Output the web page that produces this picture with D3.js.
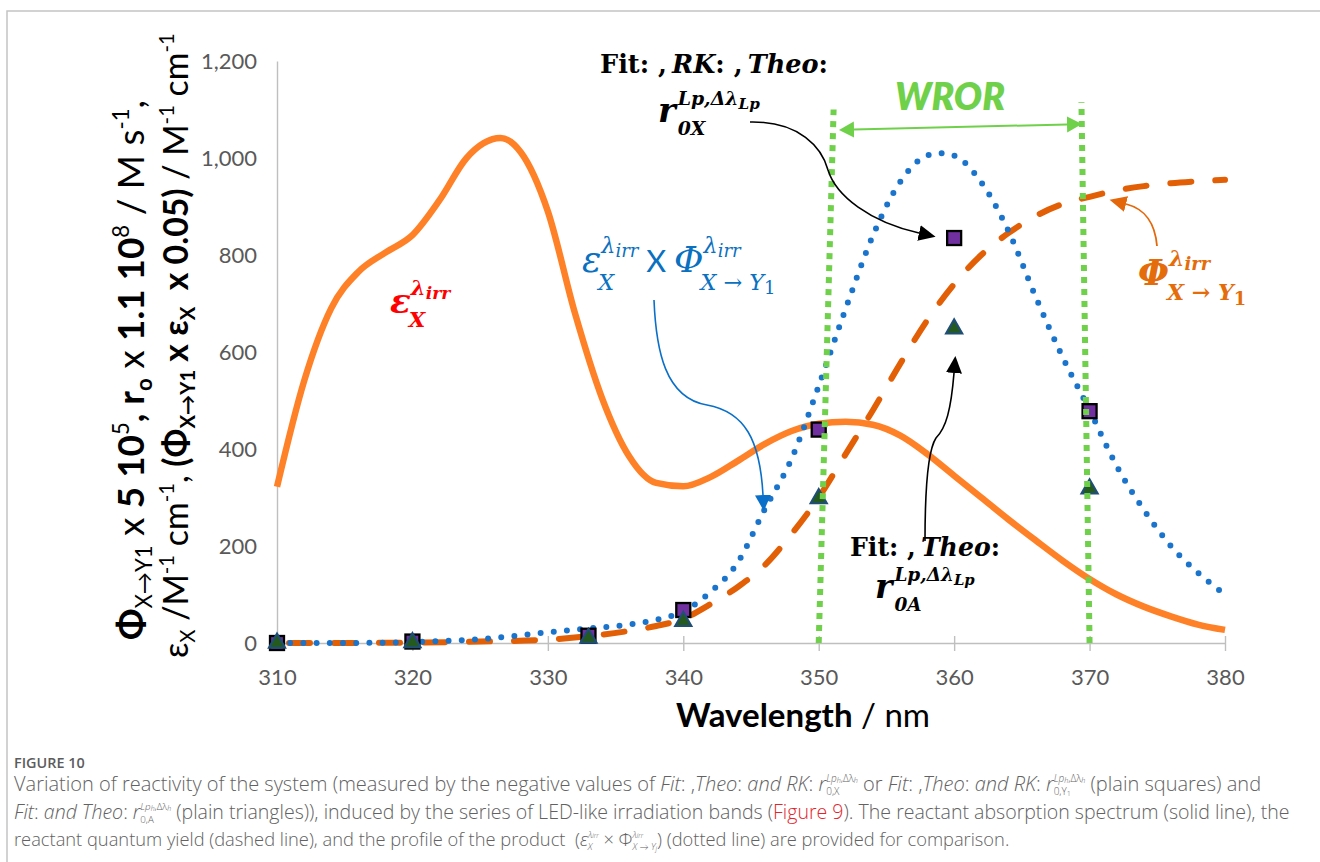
<!DOCTYPE html>
<html>
<head>
<meta charset="utf-8">
<script src="https://cdn.jsdelivr.net/npm/d3@7"></script>
<style>
  html, body { margin: 0; padding: 0; background: #fff; }
  svg { display: block; }
  text { white-space: pre; }
</style>
</head>
<body>
<svg id="fig" width="1320" height="862"></svg>
<script>
// ---- data -------------------------------------------------------------
const xTicks = [310, 320, 330, 340, 350, 360, 370, 380];
const yTicks = [0, 200, 400, 600, 800, 1000, 1200];

// irradiation wavelengths of the LED-like bands (nm)
const markerWavelengths = [310, 320, 333, 340, 350, 360, 370];
// reactivity r0X / r0Y1 (plain squares) and r0A (plain triangles), scaled
const squareValues   = [0, 3, 15, 68, 440, 835, 478];
const triangleValues = [0, 1, 10, 45, 298, 648, 318];

// reactant absorption spectrum epsilon_X (M-1 cm-1)
const epsWavelengths = [310, 312, 314, 316, 318, 320, 322, 324, 326.5, 328, 330, 332, 334, 336, 338, 340,
                        342, 344, 346, 348, 350, 352, 354, 356, 358, 360, 362, 364, 366, 368, 370, 372,
                        374, 376, 378, 380];
const epsValues      = [322, 540, 690, 765, 805, 841, 913, 1000, 1041, 1012, 890, 680, 505, 385, 330, 323,
                        342, 375, 410, 437, 452, 456, 450, 428, 390, 345, 300, 255, 212, 170, 132, 100,
                        75, 55, 38, 27];

// reactant quantum yield Phi_X->Y1 (x 5 10^5)
const phiWavelengths = [310, 315, 320, 325, 330, 333, 336, 338, 340, 342, 344, 346, 348, 350, 352, 354,
                        356, 358, 360, 362, 364, 366, 368, 370, 372, 374, 376, 378, 380];
const phiValues      = [0, 0, 1, 3, 7, 14, 25, 35, 50, 80, 115, 160, 225, 300, 390, 480,
                        575, 665, 740, 800, 845, 880, 905, 920, 933, 942, 948, 952, 955];

// product profile epsilon_X x Phi_X->Y1 (x 0.05)
const prodWavelengths = [310, 315, 320, 325, 330, 333, 336, 338, 340, 342, 344, 346, 348, 350, 352, 354,
                         356, 358, 359, 360, 362, 364, 366, 368, 370, 372, 374, 376, 378, 380];
const prodValues      = [0, 0, 2, 8, 22, 30, 38, 48, 65, 105, 165, 275, 380, 530, 690, 840,
                         950, 1005, 1010, 1005, 950, 850, 715, 590, 480, 365, 275, 200, 145, 100];

// wavelength range of reactivity (WROR): band limits at the axis and at the top of the marker lines
const wrorBounds = [350, 370];
const wrorTopWavelengths = [351.1, 369.4];
const wrorTopValues = [1100, 1115];

// ---- setup ------------------------------------------------------------
const SANS = "Lato, 'Open Sans', 'DejaVu Sans', sans-serif";
const MATH = "'DejaVu Serif', 'Liberation Serif', serif";
const CAP  = "'Open Sans', Lato, sans-serif";

const svg = d3.select('#fig');
const x = d3.scaleLinear().domain([310, 380]).range([277, 1225]);
const y = d3.scaleLinear().domain([0, 1200]).range([643, 61]);

// rich text: runs of tspans with sub/superscripts and stacked scripts
function rich(t, segs, fs, opt) {
  let cur = 0, pend = 0;
  function put(sg) {
    const target = (sg.sh || 0) * fs;
    const ts = t.append('tspan').text(sg.t).attr('dy', (target - cur).toFixed(2));
    cur = target;
    const dx = pend + (sg.dx || 0);
    if (dx) ts.attr('dx', dx.toFixed(2));
    pend = 0;
    ts.attr('font-size', ((sg.s || 1) * fs).toFixed(2));
    ts.attr('font-style', (sg.it ?? opt.it) ? 'italic' : 'normal');
    ts.attr('font-weight', (sg.b ?? opt.b) ? (opt.bw || 'bold') : (opt.nw || 'normal'));
    if (sg.fill) ts.attr('fill', sg.fill);
    if (sg.ff) ts.attr('font-family', sg.ff);
    return ts.node().getComputedTextLength();
  }
  segs.forEach(sg => {
    if (sg.sup || sg.sub) {
      let w1 = 0, w2 = 0;
      (sg.sup || []).forEach(s => { w1 += put(s); });
      (sg.sub || []).forEach((s, i) => { if (i === 0) pend -= w1; w2 += put(s); });
      pend += Math.max(0, w1 - w2);
    } else {
      put(sg);
    }
  });
}

function label(parent, px, py, segs, opt) {
  const make = fs => {
    const t = parent.append('text')
      .attr('x', px).attr('y', py)
      .attr('font-family', opt.ff)
      .attr('font-size', fs)
      .attr('fill', opt.fill || '#000');
    rich(t, segs, fs, opt);
    return t;
  };
  let t = make(opt.fs);
  if (opt.w) {
    const w = t.node().getBBox().width;
    t.remove();
    t = make(opt.fs * opt.w / w);
  }
  return t;
}

// ---- frame ------------------------------------------------------------
svg.append('path').attr('d', 'M7,862V11H1320').attr('fill', 'none')
  .attr('stroke', '#c4c4c4').attr('stroke-width', 1.5);

// ---- axes -------------------------------------------------------------
const gx = svg.append('g').attr('transform', `translate(0,${y(0)})`)
  .call(d3.axisBottom(x).tickValues(xTicks).tickFormat(d3.format('d'))
    .tickSizeOuter(0).tickSizeInner(8).tickPadding(18));
gx.select('.domain').attr('stroke', '#bfbfbf').attr('stroke-width', 1.4);
gx.selectAll('.tick line').attr('stroke', '#bfbfbf').attr('stroke-width', 1.4).attr('y1', -7).attr('y2', 8);
gx.selectAll('.tick text').attr('fill', '#595959').attr('font-size', 22).attr('font-family', SANS);

const gy = svg.append('g').attr('transform', `translate(${x(310)},0)`)
  .call(d3.axisLeft(y).tickValues(yTicks).tickFormat(d3.format(','))
    .tickSizeOuter(0).tickSizeInner(0).tickPadding(20));
gy.select('.domain').attr('stroke', '#bfbfbf').attr('stroke-width', 1.4);
gy.selectAll('.tick text').attr('fill', '#595959').attr('font-size', 22).attr('font-family', SANS);

// ---- curves -----------------------------------------------------------
const line = d3.line().x(d => x(d[0])).y(d => y(d[1])).curve(d3.curveMonotoneX);
const zip = (a, b) => a.map((v, i) => [v, b[i]]);

svg.append('path').datum(zip(epsWavelengths, epsValues)).attr('d', line)
  .attr('fill', 'none').attr('stroke', '#ff8127').attr('stroke-width', 6.5).attr('stroke-linejoin', 'round');

svg.append('path').datum(zip(phiWavelengths, phiValues)).attr('d', line)
  .attr('fill', 'none').attr('stroke', '#e35f05').attr('stroke-width', 6)
  .attr('stroke-linecap', 'round').attr('stroke-dasharray', '21 24').attr('stroke-dashoffset', -12);

svg.append('path').datum(zip(prodWavelengths, prodValues)).attr('d', line)
  .attr('fill', 'none').attr('stroke', '#1a74cc').attr('stroke-width', 6)
  .attr('stroke-linecap', 'round').attr('stroke-dasharray', '0 13.2');

// ---- markers ----------------------------------------------------------
svg.append('g').selectAll('rect')
  .data(zip(markerWavelengths, squareValues)).join('rect')
  .attr('x', d => x(d[0]) - 7).attr('y', d => y(d[1]) - 7)
  .attr('width', 14).attr('height', 14)
  .attr('fill', '#7030a0').attr('stroke', '#000').attr('stroke-width', 2.3);

svg.append('g').selectAll('path')
  .data(zip(markerWavelengths, triangleValues)).join('path')
  .attr('transform', d => `translate(${x(d[0])},${y(d[1])})`)
  .attr('d', d3.symbol(d3.symbolTriangle, 115))
  .attr('fill', '#245a1e').attr('stroke', '#1f4e79').attr('stroke-width', 2);

// ---- WROR band limits -------------------------------------------------
svg.append('g').selectAll('line')
  .data(wrorBounds.map((b, i) => ({ b, tw: wrorTopWavelengths[i], tv: wrorTopValues[i] })))
  .join('line')
  .attr('x1', d => x(d.b)).attr('y1', y(0))
  .attr('x2', d => x(d.tw)).attr('y2', d => y(d.tv))
  .attr('stroke', '#6fd04a').attr('stroke-width', 6).attr('stroke-dasharray', '6 6');

// ---- arrow markers ----------------------------------------------------
const defs = svg.append('defs');
function head(id, color, len, half) {
  defs.append('marker').attr('id', id)
    .attr('markerUnits', 'userSpaceOnUse').attr('orient', 'auto-start-reverse')
    .attr('markerWidth', len + 2).attr('markerHeight', 2 * half + 2)
    .attr('viewBox', `0 ${-half - 1} ${len + 2} ${2 * half + 2}`)
    .attr('refX', 0).attr('refY', 0)
    .append('path').attr('d', `M0,${-half}L${len},0L0,${half}Z`).attr('fill', color);
}
head('hBlack', '#000', 17, 8);
head('hBlue', '#0a6fc8', 16, 8);
head('hOrange', '#e4670a', 17, 8);
head('hGreen', '#6fd04a', 15, 8);

const ann = svg.append('g').attr('fill', 'none');
ann.append('path').attr('d', 'M854,129.6L1067,124.4').attr('stroke', '#6fd04a').attr('stroke-width', 2)
  .attr('marker-start', 'url(#hGreen)').attr('marker-end', 'url(#hGreen)');
ann.append('path').attr('d', 'M750,122C800,121 822,148 828,170C836,196 870,222 919,233')
  .attr('stroke', '#000').attr('stroke-width', 1.6).attr('marker-end', 'url(#hBlack)');
ann.append('path').attr('d', 'M925,541C925,490 928,450 936,438C946,428 951,410 954,373')
  .attr('stroke', '#000').attr('stroke-width', 1.6).attr('marker-end', 'url(#hBlack)');
ann.append('path').attr('d', 'M654,300C656,350 665,398 707,405C745,412 760,440 763,495')
  .attr('stroke', '#0a6fc8').attr('stroke-width', 1.6).attr('marker-end', 'url(#hBlue)');
ann.append('path').attr('d', 'M1157,246C1155,222 1145,209 1126,204')
  .attr('stroke', '#e4670a').attr('stroke-width', 1.8).attr('marker-end', 'url(#hOrange)');

// ---- annotation labels ------------------------------------------------
const lab = svg.append('g');

label(lab, 895, 110, [{ t: 'WROR' }], { ff: SANS, fs: 32, w: 110, b: 1, it: 1, fill: '#6fd04a', bw: 800 });

label(lab, 600, 73, [
  { t: 'Fit' }, { t: ': ,\u2009' }, { t: 'RK', it: 1 }, { t: ': ,\u2009' }, { t: 'Theo', it: 1 }, { t: ':' }
], { ff: MATH, fs: 28, w: 228, b: 1 });

const rScripts = sub => [
  { t: 'r', it: 1 },
  { sup: [{ t: 'Lp,Δλ', s: 0.56, sh: -0.52, dx: 2 }, { t: 'Lp', s: 0.45, sh: -0.4 }],
    sub: [{ t: sub, s: 0.56, sh: 0.4 }] }
];
label(lab, 658, 122, rScripts('0X'), { ff: MATH, fs: 34, w: 102, b: 1, it: 1 });

label(lab, 850, 556, [
  { t: 'Fit' }, { t: ': ,\u2009' }, { t: 'Theo', it: 1 }, { t: ':' }
], { ff: MATH, fs: 28, w: 150, b: 1 });
label(lab, 875, 598, rScripts('0A'), { ff: MATH, fs: 34, w: 100, b: 1, it: 1 });

const lamIrr = [{ t: 'λ', s: 0.62, sh: -0.52 }, { t: 'irr', s: 0.5, sh: -0.42 }];

label(lab, 390, 313, [
  { t: 'ε' }, { sup: lamIrr, sub: [{ t: 'X', s: 0.62, sh: 0.42, dx: -2 }] }
], { ff: MATH, fs: 32, w: 62, b: 1, it: 1, fill: '#ff0000' });

label(lab, 582, 272, [
  { t: 'ε' }, { sup: lamIrr, sub: [{ t: 'X', s: 0.62, sh: 0.5, dx: -3 }] },
  { t: ' X ', it: 0, ff: SANS, s: 0.85, dx: 3 },
  { t: 'Φ' }, { sup: lamIrr, sub: [{ t: 'X → Y', s: 0.62, sh: 0.5, dx: -3 }, { t: '1', s: 0.5, sh: 0.62, it: 0 }] }
], { ff: MATH, fs: 30, w: 193, b: 0, it: 1, fill: '#0a70c0' });

label(lab, 1138, 285, [
  { t: 'Φ' }, { sup: lamIrr, sub: [{ t: 'X → Y', s: 0.62, sh: 0.42, dx: -2 }, { t: '1', s: 0.5, sh: 0.55, it: 0 }] }
], { ff: MATH, fs: 32, w: 108, b: 1, it: 1, fill: '#e46c0a' });

// ---- axis titles ------------------------------------------------------
label(svg, 676, 727, [{ t: 'Wavelength', b: 1 }, { t: ' / nm', b: 0 }],
  { ff: SANS, fs: 28, w: 254 });

const ySup = t => ({ t, s: 0.6, sh: -0.42 });
const ySub = (t, b) => ({ t, s: 0.6, sh: 0.22, b });
const yt1 = svg.append('g').attr('transform', 'translate(144,640) rotate(-90)');
label(yt1, 0, 0, [
  { t: 'Φ', b: 1 }, ySub('X→Y1', 0), { t: ' x ', b: 0 }, { t: '5 10', b: 1 }, ySup('5'),
  { t: ', r', b: 1 }, ySub('o', 1), { t: ' x ', b: 0 }, { t: '1.1 10', b: 1 }, ySup('8'),
  { t: ' / M s', b: 0 }, ySup('-1'), { t: ',', b: 0 }
], { ff: SANS, fs: 30, w: 540, bw: 'bold' });

const yt2 = svg.append('g').attr('transform', 'translate(188,658) rotate(-90)');
label(yt2, 0, 0, [
  { t: 'ε', b: 0 }, ySub('X', 0), { t: ' /M', b: 0 }, ySup('-1'), { t: ' cm', b: 0 }, ySup('-1'),
  { t: ', ', b: 0 }, { t: '(Φ', b: 1 }, ySub('X→Y1', 1), { t: ' x ε', b: 1 }, ySub('X', 1),
  { t: '  x 0.05)', b: 1 }, { t: ' / M', b: 0 }, ySup('-1'), { t: ' cm', b: 0 }, ySup('-1')
], { ff: SANS, fs: 30, w: 625 });

// ---- caption ----------------------------------------------------------
label(svg, 14, 768, [{ t: 'FIGURE 10' }], { ff: CAP, fs: 13.5, w: 71, b: 1, bw: 600, fill: '#5c5c5c' });

const cOpt = w => ({ ff: CAP, fs: 15.5, w, b: 0, nw: 300, fill: '#626262' });
const capR = sub => ({
  sup: [{ t: 'Lp', it: 1, s: 0.5, sh: -0.46 }, { t: 'h', it: 1, s: 0.36, sh: -0.42 },
        { t: ',Δλ', s: 0.5, sh: -0.46 }, { t: 'h', it: 1, s: 0.36, sh: -0.42 }],
  sub
});
label(svg, 14, 791, [
  { t: 'Variation of reactivity of the system (measured by the negative values of ' },
  { t: 'Fit', it: 1 }, { t: ': ,' }, { t: 'Theo', it: 1 }, { t: ': ' }, { t: 'and RK', it: 1 }, { t: ': ' },
  { t: 'r', it: 1 }, capR([{ t: '0,X', s: 0.5, sh: 0.2 }]),
  { t: ' or ' },
  { t: 'Fit', it: 1 }, { t: ': ,' }, { t: 'Theo', it: 1 }, { t: ': ' }, { t: 'and RK', it: 1 }, { t: ': ' },
  { t: 'r', it: 1 }, capR([{ t: '0,Y', s: 0.5, sh: 0.2 }, { t: '1', s: 0.36, sh: 0.24 }]),
  { t: ' (plain squares) and' }
], cOpt(1248));

label(svg, 14, 819, [
  { t: 'Fit', it: 1 }, { t: ': ' }, { t: 'and Theo', it: 1 }, { t: ': ' },
  { t: 'r', it: 1 }, capR([{ t: '0,A', s: 0.5, sh: 0.22 }]),
  { t: ' (plain triangles)), induced by the series of LED-like irradiation bands (' },
  { t: 'Figure 9', fill: '#e3242b' },
  { t: '). The reactant absorption spectrum (solid line), the' }
], cOpt(1276));

const capLam = [{ t: 'λ', it: 1, s: 0.5, sh: -0.46 }, { t: 'irr', it: 1, s: 0.36, sh: -0.42 }];
label(svg, 14, 846, [
  { t: 'reactant quantum yield (dashed line), and the profile of the product  (' },
  { t: 'ε', it: 1 }, { sup: capLam, sub: [{ t: 'X', it: 1, s: 0.5, sh: 0.24 }] },
  { t: ' × Φ' }, { sup: capLam, sub: [{ t: 'X → Y', it: 1, s: 0.5, sh: 0.24 }, { t: 'j', it: 1, s: 0.36, sh: 0.28 }] },
  { t: ') (dotted line) are provided for comparison.' }
], cOpt(996));
</script>
</body>
</html>
